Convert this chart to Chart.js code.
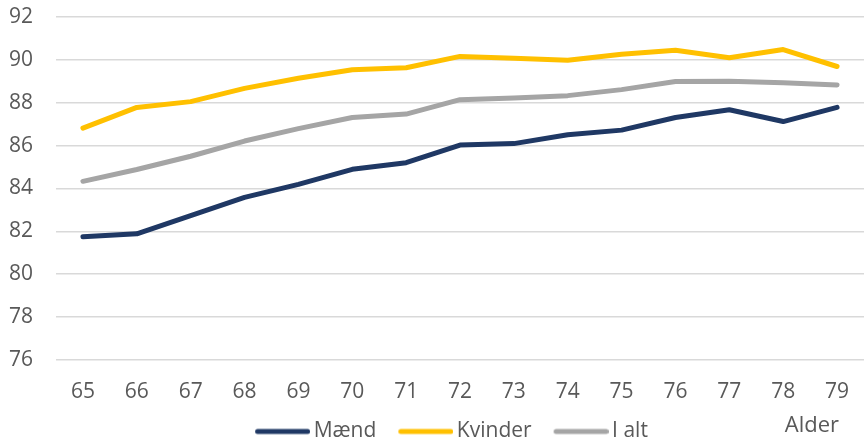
<!DOCTYPE html>
<html>
<head>
<meta charset="utf-8">
<script src="https://cdn.jsdelivr.net/npm/chart.js@4.4.0/dist/chart.umd.min.js"></script>
<style>
  html, body { margin: 0; padding: 0; background: #fff; }
  #wrap { width: 864px; height: 442px; position: relative; }
</style>
</head>
<body>
<div id="wrap"><canvas id="chart"></canvas></div>
<script>
// Alder (x-axis categories)
const ages = ["65", "66", "67", "68", "69", "70", "71", "72", "73", "74", "75", "76", "77", "78", "79"];

// Series values
const maend   = [81.74, 81.88, 82.73, 83.58, 84.19, 84.89, 85.20, 86.02, 86.09, 86.50, 86.72, 87.31, 87.67, 87.12, 87.78];
const kvinder = [86.81, 87.78, 88.05, 88.67, 89.14, 89.54, 89.63, 90.16, 90.08, 89.98, 90.26, 90.45, 90.10, 90.48, 89.69];
const iAlt    = [84.33, 84.88, 85.50, 86.21, 86.79, 87.31, 87.47, 88.14, 88.22, 88.33, 88.61, 88.99, 89.00, 88.93, 88.83];

const yMin = 76, yMax = 92, yStep = 2;

const textColor = "#595959";
const fontFamily = "'Open Sans', sans-serif";

function series(label, data, color) {
    return {
        label: label,
        data: data,
        borderColor: color,
        backgroundColor: color,
        borderWidth: 5,
        borderCapStyle: "round",
        borderJoinStyle: "round",
        pointRadius: 0,
        pointHoverRadius: 0,
        tension: 0
    };
}

// line swatch for the legend: blank on the left (gap to previous item),
// round-capped line on the right, ending just before the text
function swatch(color) {
    const c = document.createElement("canvas");
    c.width = 79;
    c.height = 8;
    const g = c.getContext("2d");
    g.strokeStyle = color;
    g.lineWidth = 5;
    g.lineCap = "round";
    g.beginPath();
    g.moveTo(26.5, 4);
    g.lineTo(76.5, 4);
    g.stroke();
    return c;
}

// legend nudge + the "Alder" label on the legend row, right side
const alderLabel = {
    id: "alderLabel",
    afterLayout(chart) {
        const lg = chart.legend;
        // legend sits a bit right of centre in the original
        lg.left += 11;
        lg.right += 11;
        lg.top -= 1;
    },
    afterDraw(chart) {
        const ctx = chart.ctx;
        const lg = chart.legend;
        const cy = lg.top + lg.options.labels.padding + 10.5;
        ctx.save();
        ctx.font = "22px " + fontFamily;
        ctx.fillStyle = textColor;
        ctx.textAlign = "right";
        ctx.textBaseline = "middle";
        ctx.fillText("Alder", chart.chartArea.right - 25, cy - 6);
        ctx.restore();
    }
};

new Chart(document.getElementById("chart"), {
    type: "line",
    data: {
        labels: ages,
        datasets: [
            series("Mænd", maend, "#1F3864"),
            series("Kvinder", kvinder, "#FFC000"),
            series("I alt", iAlt, "#A5A5A5")
        ]
    },
    options: {
        responsive: true,
        maintainAspectRatio: false,
        animation: false,
        layout: { padding: { top: 17, right: 0, left: 0, bottom: 0 } },
        plugins: {
            tooltip: { enabled: false },
            legend: {
                position: "bottom",
                padding: 0,
                maxHeight: 25,
                labels: {
                    usePointStyle: true,
                    pointStyleWidth: 65,
                    boxHeight: 5,
                    padding: 5,
                    color: textColor,
                    font: { family: fontFamily, size: 21 },
                    generateLabels(chart) {
                        const items = Chart.defaults.plugins.legend.labels.generateLabels(chart);
                        items.forEach((it) => { it.pointStyle = swatch(it.strokeStyle); });
                        return items;
                    }
                }
            }
        },
        scales: {
            x: {
                offset: true,
                grid: { display: false },
                border: { display: false },
                ticks: {
                    color: textColor,
                    padding: 12,
                    font: { family: fontFamily, size: 21 }
                }
            },
            y: {
                min: yMin,
                max: yMax,
                afterFit(scale) {
                    scale.width = 56;
                    scale.paddingTop = 0;
                },
                ticks: {
                    stepSize: yStep,
                    color: textColor,
                    padding: 23,
                    font: { family: fontFamily, size: 21 }
                },
                grid: { color: "#D9D9D9", lineWidth: 1.5, drawTicks: false },
                border: { display: false }
            }
        }
    },
    plugins: [alderLabel]
});
</script>
</body>
</html>
